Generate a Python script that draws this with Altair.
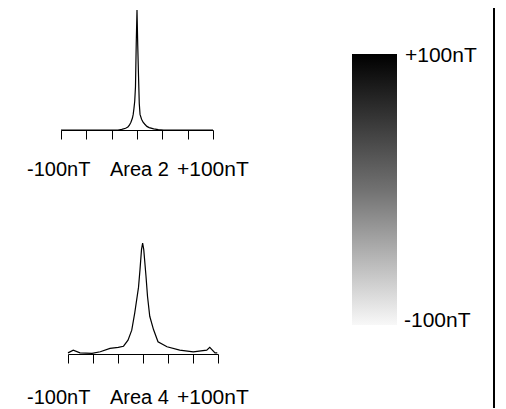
import altair as alt
import pandas as pd

# ---- data ----
area2_nt = [-100, -40, -25, -20, -15, -12, -10, -8, -6, -5, -4, -3, -2, -1, 0, 1, 2, 3, 4, 6, 8, 10, 13, 16, 22, 28, 35, 100]
area2_count = [0, 0, 0, 0.5, 1.5, 2.5, 4, 6.5, 10, 13, 18, 24, 36, 72, 100, 70, 45, 22, 13, 9, 6.5, 5, 3, 2, 1, 0.3, 0, 0]

area4_nt = [-100, -93, -84, -68, -57, -44, -33, -26, -20, -15, -11, -6, -4, -2, -0.5, 1, 4, 6, 9, 14, 20, 32, 49, 67, 85, 89, 96, 99]
area4_count = [1, 3.5, 1, 0.5, 2, 5, 6, 7, 12.5, 21.5, 37, 60, 76, 94, 100, 94, 70, 52, 34, 22, 11, 6.5, 3.5, 2, 3.5, 6, 1, 1]

tick_values = [-100, -66.67, -33.33, 0, 33.33, 66.67, 100]
colorbar_domain = [-100, 100]
colorbar_labels = ["+100nT", "-100nT"]
area2_labels = ["-100nT", "Area 2", "+100nT"]
area4_labels = ["-100nT", "Area 4", "+100nT"]

W, H = 490, 400
FONT = "Liberation Sans"


def hist(nt, cnt, xr, yr, axis_y):
    df = pd.DataFrame({"nT": nt, "count": cnt})
    return alt.Chart(df).mark_line(color="black", strokeWidth=1.2).encode(
        x=alt.X(
            "nT:Q",
            scale=alt.Scale(domain=[-100, 100], range=xr, nice=False, zero=False),
            axis=alt.Axis(
                values=tick_values, tickSize=9, labels=False, title=None, grid=False,
                domainColor="black", tickColor="black", domainWidth=1, tickWidth=1,
                orient="bottom", offset=axis_y - H,
            ),
        ),
        y=alt.Y("count:Q", scale=alt.Scale(domain=[0, 100], range=yr, nice=False), axis=None),
    )


def label(text, x, y, align="left", size=20):
    return alt.Chart(pd.DataFrame({"t": [text]})).mark_text(
        align=align, baseline="alphabetic", font=FONT, fontSize=size, color="black"
    ).encode(x=alt.value(x), y=alt.value(y), text="t:N")


top = hist(area2_nt, area2_count, [53, 205], [122, 2], 122)
bottom = hist(area4_nt, area4_count, [60, 210], [346, 235], 346)

cb_df = pd.DataFrame({"hi": [colorbar_domain[1]], "lo": [colorbar_domain[0]]})
grad = alt.Gradient(
    gradient="linear",
    stops=[
        alt.GradientStop(color="#000000", offset=0),
        alt.GradientStop(color="#717171", offset=0.5),
        alt.GradientStop(color="#f8f8f8", offset=1),
    ],
    x1=0, x2=0, y1=0, y2=1,
)
colorbar = alt.Chart(cb_df).mark_rect(color=grad).encode(
    x=alt.value(344), x2=alt.value(389),
    y=alt.Y("hi:Q", scale=alt.Scale(domain=colorbar_domain, range=[317, 46], nice=False), axis=None),
    y2="lo:Q",
)

border = alt.Chart(pd.DataFrame({"a": [0]})).mark_rule(color="black", strokeWidth=2).encode(
    x=alt.value(486), y=alt.value(0), y2=alt.value(H)
)

texts = [
    label(area2_labels[0], 19, 168),
    label(area2_labels[1], 102, 168),
    label(area2_labels[2], 169, 168, size=21),
    label(area4_labels[0], 19, 396),
    label(area4_labels[1], 102, 396),
    label(area4_labels[2], 169, 396, size=21),
    label(colorbar_labels[0], 397, 54, size=21),
    label(colorbar_labels[1], 396, 319, size=21),
]

chart = alt.layer(top, bottom, colorbar, border, *texts).resolve_scale(
    x="independent", y="independent"
).resolve_axis(x="independent", y="independent").properties(
    width=W, height=H, padding=0, autosize=alt.AutoSizeParams(type="none"), background="white"
).configure_view(stroke=None)

chart.save("out.html", embed_options={"renderer": "svg", "actions": False})
